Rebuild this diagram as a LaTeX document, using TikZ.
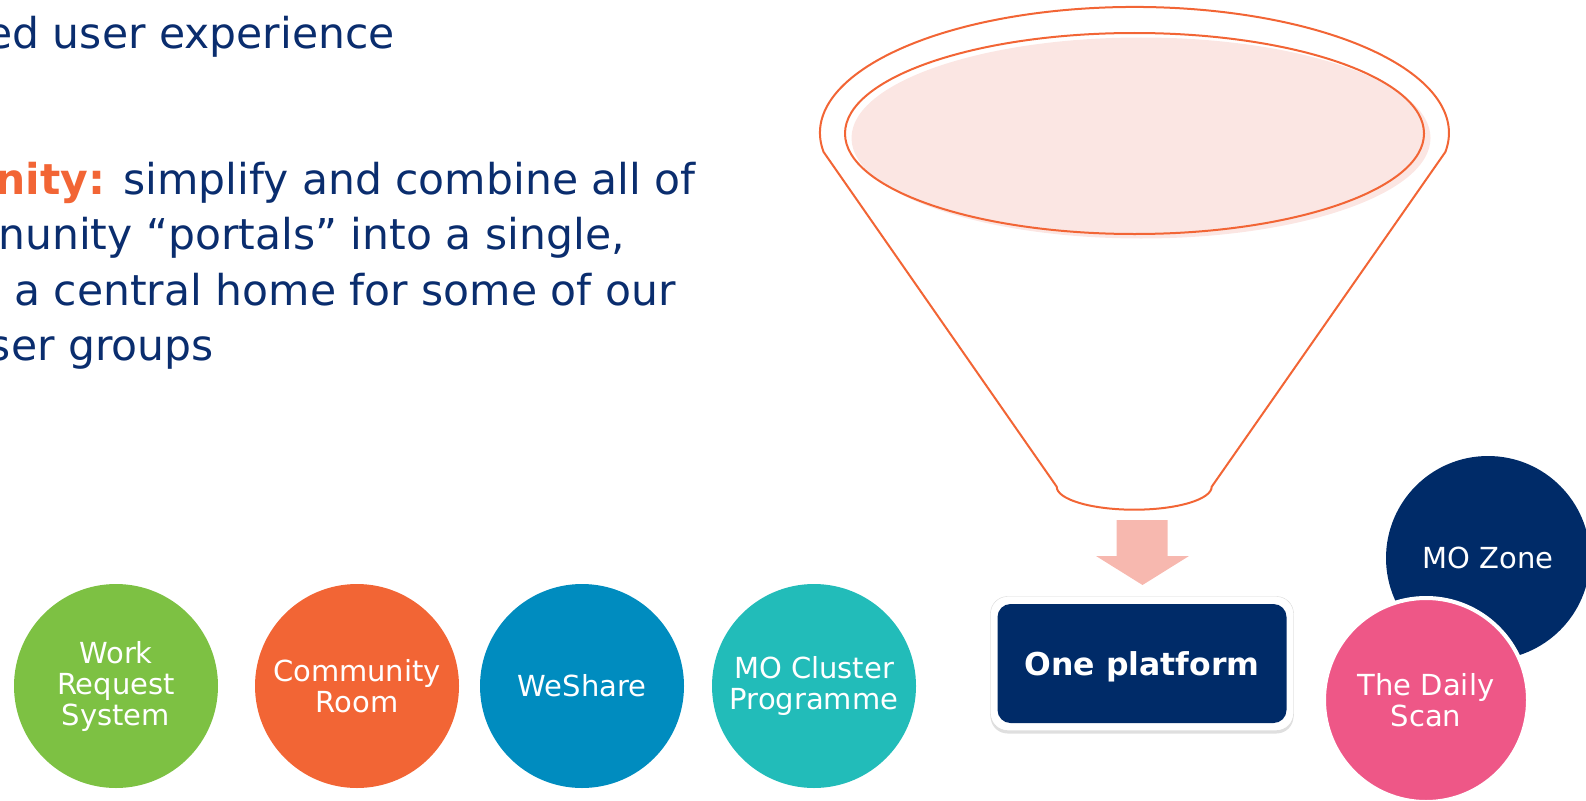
\documentclass[tikz,border=0pt]{standalone}
\usepackage{fontspec}
\setmainfont{DejaVu Sans}
\usetikzlibrary{shadows}
\definecolor{textnavy}{HTML}{0A2D6E}
\definecolor{portalorange}{HTML}{F26535}
\definecolor{funnelfill}{HTML}{FBE6E3}
\definecolor{arrowpink}{HTML}{F7B8AF}
\definecolor{btnnavy}{HTML}{002B68}
\definecolor{wrsgreen}{HTML}{7DC143}
\definecolor{weblue}{HTML}{008CBF}
\definecolor{clteal}{HTML}{22BCB9}
\definecolor{scanpink}{HTML}{EE5787}
\begin{document}
\begin{tikzpicture}[x=1pt,y=-1pt,
    bubble/.style={circle,minimum size=204pt,inner sep=0pt,text=white,align=center,
        font=\fontsize{29}{31}\selectfont},
    body/.style={anchor=base east,inner sep=0pt,text=textnavy,font=\fontsize{42.5}{55}\selectfont},
    funnel/.style={draw=portalorange,line width=2pt}]
    \useasboundingbox (0,0) rectangle (1586,800);
    % text on the left, cut by the page edge
    \node[body] (line1) at (395,48.5) {ed user experience};
    \node[body] (line2) at (696,194) {\textcolor{portalorange}{\textbf{nity:}} simplify and combine all of};
    \node[body, anchor=base west] (line3) at (-2,249.5) {nunity “portals” into a single,};
    \node[body, anchor=base west] (line4) at (14,305) {a central home for some of our};
    \node[body] (line5) at (214,360.5) {ser groups};
    % funnel
    \fill[funnelfill] (1141,138) ellipse [x radius=289.5, y radius=100.5];
    \draw[funnel] (1056.7,486.7) -- (823.6,152)
        arc[start angle=171.3, end angle=368.7, x radius=314.5, y radius=126]
        -- (1211.7,486.7) arc[start angle=0, end angle=180, x radius=77.5, y radius=23] -- cycle;
    \draw[funnel] (1134.5,133.5) ellipse [x radius=289.5, y radius=100.5];
    \fill[arrowpink] (1116.7,520) -- (1167.7,520) -- (1167.7,556) -- (1189,556) -- (1142.5,585)
        -- (1096,556) -- (1116.7,556) -- cycle;
    % button
    \node[draw=gray!30, fill=white, rounded corners=17pt, minimum width=303pt, minimum height=134pt,
        drop shadow={opacity=0.25, shadow xshift=0pt, shadow yshift=-3pt}] (frame) at (1142,663.5) {};
    \node[fill=btnnavy, rounded corners=13pt, minimum width=289pt, minimum height=119pt, text=white,
        font=\bfseries\fontsize{31.5}{36}\selectfont] (platform) at (frame.center) {};
    \node[text=white, font=\bfseries\fontsize{31.5}{36}\selectfont] (label) at ([yshift=-3pt]platform.center) {One platform};
    % portals
    \foreach \cx/\cy/\col/\name/\txt in {116/686/wrsgreen/wrs/{Work\\Request\\System},
        357/686/portalorange/room/{Community\\Room}, 582/686/weblue/weshare/WeShare,
        814/686/clteal/cluster/{MO Cluster\\Programme}, 1488/558/btnnavy/zone/MO Zone}
        \node[bubble, fill=\col] (\name) at (\cx,\cy) {\txt};
    \node[bubble, fill=scanpink, draw=white, line width=4pt] (scan) at (1426,700) {The Daily\\Scan};
\end{tikzpicture}
\end{document}
